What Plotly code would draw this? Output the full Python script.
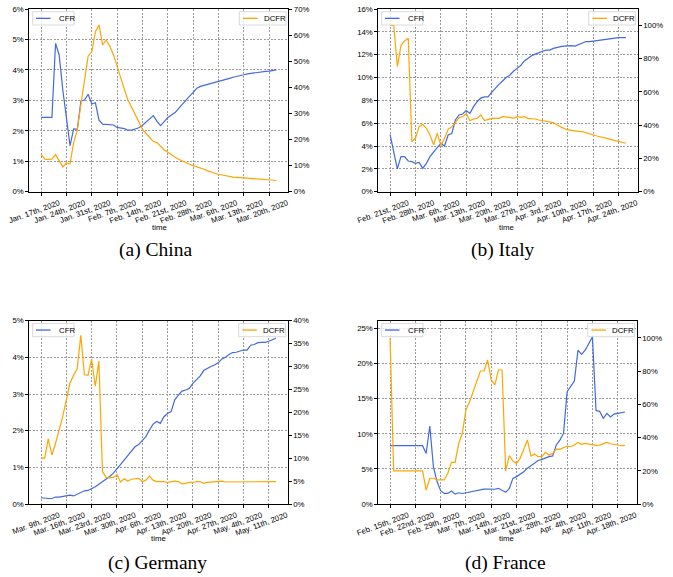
import pandas as pd
import plotly.graph_objects as go

# ---------------------------------------------------------------- data
# Daily CFR / DCFR (percent) for each country, one value per day.
china_start = "2020-01-17"
china_cfr = [2.44, 2.44, 2.44, 2.44, 4.87, 4.49, 3.34, 2.41, 1.51, 2.06,
             2.05, 2.98, 3.01, 3.2, 2.88, 2.92, 2.35, 2.22, 2.21, 2.21,
             2.19, 2.11, 2.09, 2.07, 2.02, 2.02, 2.06, 2.1, 2.18, 2.28,
             2.39, 2.5, 2.31, 2.17, 2.3, 2.44, 2.52, 2.6, 2.74, 2.88,
             3.02, 3.14, 3.26, 3.4, 3.46, 3.49, 3.52, 3.56, 3.59, 3.61,
             3.66, 3.69, 3.72, 3.76, 3.78, 3.81, 3.84, 3.87, 3.89, 3.91,
             3.93, 3.94, 3.95, 3.96, 3.99, 4.0]
china_dcfr = [14.4, 12.5, 12.4, 12.5, 14.2, 11.7, 9.5, 11.0, 10.7, 18.9,
              23.6, 33.5, 42.1, 52.0, 53.6, 61.3, 63.9, 56.2, 58.1, 55.6,
              52.4, 47.9, 42.8, 39.2, 35.1, 32.3, 29.4, 26.4, 23.9, 22.3,
              20.8, 19.2, 18.8, 17.2, 16.0, 15.1, 14.0, 13.2, 12.4, 11.7,
              11.1, 10.5, 10.0, 9.6, 9.1, 8.6, 8.0, 7.5, 7.0, 6.6,
              6.4, 6.1, 5.9, 5.6, 5.5, 5.4, 5.2, 5.1, 5.0, 4.9,
              4.7, 4.6, 4.6, 4.5, 4.5, 4.3]

italy_start = "2020-02-21"
italy_cfr = [5.0, 3.5, 2.0, 3.07, 3.07, 2.69, 2.63, 2.48, 2.57, 2.04,
             2.48, 3.07, 3.5, 3.85, 4.23, 4.0, 4.96, 5.1, 6.28, 6.72,
             6.8, 7.1, 6.86, 7.45, 7.88, 8.2, 8.3, 8.3, 8.7, 9.1,
             9.4, 9.7, 10.0, 10.2, 10.55, 10.8, 11.05, 11.45, 11.7, 11.9,
             12.05, 12.2, 12.3, 12.4, 12.4, 12.55, 12.65, 12.7, 12.75, 12.8,
             12.8, 12.75, 12.9, 13.05, 13.15, 13.15, 13.2, 13.25, 13.3, 13.35,
             13.4, 13.45, 13.45, 13.5, 13.5, 13.5]
italy_dcfr = [100.0, 100.0, 75.2, 87.8, 90.6, 92.2, 30.1, 32.1, 39.1, 40.5,
              38.1, 34.1, 28.1, 35.1, 27.7, 32.0, 37.5, 39.0, 41.5, 44.5,
              45.0, 47.0, 42.7, 43.7, 44.1, 46.1, 42.7, 43.5, 44.1, 44.1,
              44.1, 45.1, 45.1, 44.7, 44.1, 45.1, 44.7, 45.1, 44.1, 44.1,
              43.7, 43.1, 42.7, 42.5, 42.3, 41.5, 40.1, 38.9, 37.9, 37.1,
              36.7, 36.5, 36.3, 36.1, 35.3, 34.7, 34.1, 33.5, 33.1, 32.5,
              31.9, 31.3, 30.7, 30.1, 29.5, 29.1]

germany_start = "2020-03-09"
germany_cfr = [0.17, 0.15, 0.15, 0.15, 0.19, 0.19, 0.2, 0.23, 0.24, 0.22,
               0.27, 0.32, 0.36, 0.37, 0.41, 0.47, 0.54, 0.61, 0.67, 0.75,
               0.84, 0.97, 1.09, 1.2, 1.32, 1.45, 1.56, 1.62, 1.72, 1.84,
               2.02, 2.18, 2.25, 2.2, 2.38, 2.47, 2.52, 2.84, 2.97, 3.08,
               3.11, 3.15, 3.29, 3.38, 3.49, 3.64, 3.7, 3.75, 3.79, 3.85,
               3.95, 4.0, 4.08, 4.13, 4.14, 4.17, 4.2, 4.2, 4.33, 4.35,
               4.4, 4.41, 4.41, 4.44, 4.47, 4.52]
germany_dcfr = [10.0, 10.0, 14.2, 10.7, 13.2, 16.1, 19.1, 22.7, 26.4, 28.1,
                29.5, 36.8, 28.2, 28.1, 31.6, 25.7, 31.2, 7.1, 5.8, 5.7,
                5.8, 6.4, 4.8, 5.5, 5.0, 5.4, 5.5, 5.6, 4.9, 5.2,
                6.1, 5.2, 4.9, 4.9, 4.9, 4.7, 4.8, 5.0, 4.9, 4.4,
                4.5, 4.7, 4.7, 4.9, 4.9, 4.5, 4.7, 4.8, 4.9, 4.9,
                5.0, 4.8, 4.8, 4.8, 4.9, 4.9, 4.9, 4.9, 4.9, 4.9,
                4.9, 4.9, 4.8, 4.8, 4.9, 4.9]

france_start = "2020-02-15"
france_cfr = [8.3, 8.3, 8.3, 8.3, 8.3, 8.3, 8.3, 8.3, 8.3, 8.3,
              7.2, 11.1, 5.3, 3.2, 1.9, 1.5, 1.5, 1.85, 1.4, 1.6,
              1.5, 1.6, 1.65, 1.75, 1.85, 2.04, 2.13, 2.13, 2.1, 2.1,
              2.23, 2.0, 1.66, 2.23, 3.65, 3.9, 4.2, 4.6, 5.1, 5.45,
              5.8, 6.2, 6.35, 6.6, 6.75, 6.85, 8.4, 9.1, 10.05, 16.0,
              16.7, 17.5, 21.9, 21.3, 21.9, 22.9, 23.8, 13.3, 13.2, 12.2,
              12.9, 12.4, 12.8, 12.9, 13.0, 13.1]
france_dcfr = [100.0, 20.0, 20.0, 20.0, 20.0, 20.0, 20.0, 20.0, 20.0, 20.0,
               8.4, 15.5, 15.5, 14.5, 14.5, 14.5, 18.5, 25.1, 25.1, 36.5,
               42.6, 56.8, 61.4, 67.3, 73.7, 80.1, 80.1, 86.7, 74.7, 71.7,
               80.7, 80.7, 19.9, 29.1, 25.9, 24.5, 27.5, 32.5, 38.6, 28.9,
               30.1, 28.5, 28.5, 31.1, 29.5, 30.5, 33.1, 32.9, 34.1, 34.9,
               34.5, 35.5, 37.1, 35.9, 36.5, 36.1, 35.9, 35.3, 35.5, 36.1,
               37.1, 36.3, 35.9, 35.5, 35.1, 35.3]

captions = ["(a) China", "(b) Italy", "(c) Germany", "(d) France"]

# ---------------------------------------------------------------- styling
W, H = 673, 577
CFR_COLOR = "#4169E1"
DCFR_COLOR = "#FFA500"
SANS = "Liberation Sans, Arial, sans-serif"
SERIF = "Liberation Serif, Times New Roman, serif"
TICK_FONT = dict(family=SANS, size=7.8, color="#000000")
GRID = "#9a9a9a"

# plot-area boxes in pixels: left, top, right, bottom
panels = [
    dict(start=china_start, cfr=china_cfr, dcfr=china_dcfr,
         box=(29.3, 9.0, 288.3, 191.7), left=(0, 6, 1), right=(0, 70, 10),
         cap=(155, 250), tlab=(159, 227)),
    dict(start=italy_start, cfr=italy_cfr, dcfr=italy_dcfr,
         box=(378.3, 9.0, 637.7, 191.7), left=(0, 16, 2), right=(0, 109.8, 20),
         cap=(503, 250), tlab=(506, 227)),
    dict(start=germany_start, cfr=germany_cfr, dcfr=germany_dcfr,
         box=(29.3, 320.7, 287.7, 504.0), left=(0, 5, 1), right=(0, 40, 5),
         cap=(157, 563), tlab=(158, 538)),
    dict(start=france_start, cfr=france_cfr, dcfr=france_dcfr,
         box=(378.3, 320.7, 636.7, 504.0), left=(0, 26.1, 5), right=(0, 110.4, 20),
         cap=(505, 563), tlab=(506, 538)),
]


def px_x(x):
    return x / W


def px_y(y):
    return 1 - y / H


def ordinal(n):
    if 10 <= n % 100 <= 20:
        return f"{n}th"
    return f"{n}" + {1: "st", 2: "nd", 3: "rd"}.get(n % 10, "th")


def date_label(d):
    return f"{d.strftime('%b')}. {ordinal(d.day)}, {d.year}"


def pct_ticks(lo, hi, step):
    vals = []
    v = lo
    while v <= hi + 1e-9:
        vals.append(v)
        v += step
    return vals


fig = go.Figure()
layout = dict(
    width=W, height=H, margin=dict(l=0, r=0, t=0, b=0, autoexpand=False),
    paper_bgcolor="white", plot_bgcolor="white", showlegend=False,
    shapes=[], annotations=[],
)

for k, p in enumerate(panels):
    n = k + 1
    xname = "x" if n == 1 else f"x{n}"
    yl_idx, yr_idx = 2 * n - 1, 2 * n
    yl = "y" if yl_idx == 1 else f"y{yl_idx}"
    yr = f"y{yr_idx}"

    dates = pd.date_range(p["start"], periods=len(p["cfr"]), freq="D")
    span = dates[-1] - dates[0]
    pad = span * 0.05
    ticks = pd.date_range(dates[0], dates[-1], freq="7D")

    fig.add_trace(go.Scatter(x=dates, y=p["cfr"], mode="lines", name="CFR",
                             line=dict(color=CFR_COLOR, width=1.2),
                             xaxis=xname, yaxis=yl))
    fig.add_trace(go.Scatter(x=dates, y=p["dcfr"], mode="lines", name="DCFR",
                             line=dict(color=DCFR_COLOR, width=1.2),
                             xaxis=xname, yaxis=yr))

    L, T, R, B = p["box"]
    xdom = [px_x(L), px_x(R)]
    ydom = [px_y(B), px_y(T)]

    layout["xaxis" if n == 1 else f"xaxis{n}"] = dict(
        domain=xdom, anchor=yl, type="date", automargin=False,
        range=[str(dates[0] - pad), str(dates[-1] + pad)],
        tickmode="array", tickvals=list(ticks),
        ticktext=[date_label(t) for t in ticks],
        tickangle=-20, tickfont=TICK_FONT, ticklabelshift=18,
        ticks="outside", ticklen=3, tickwidth=0.8, tickcolor="black",
        showline=True, linecolor="black", linewidth=1, mirror=True,
        showgrid=True, gridcolor=GRID, gridwidth=0.6, griddash="2px,1.5px",
        zeroline=False,
    )
    lo, hi, st = p["left"]
    lv = pct_ticks(lo, hi, st)
    layout["yaxis" if yl_idx == 1 else f"yaxis{yl_idx}"] = dict(
        domain=ydom, anchor=xname, side="left", range=[lo, hi], automargin=False,
        tickmode="array", tickvals=lv, ticktext=[f"{v:g}%" for v in lv],
        tickfont=TICK_FONT,
        ticks="outside", ticklen=3, tickwidth=0.8, tickcolor="black",
        showline=True, linecolor="black", linewidth=1,
        showgrid=True, gridcolor=GRID, gridwidth=0.6, griddash="2px,1.5px",
        zeroline=False,
    )
    lo, hi, st = p["right"]
    rv = pct_ticks(lo, hi, st)
    layout[f"yaxis{yr_idx}"] = dict(
        overlaying=yl, anchor=xname, side="right", range=[lo, hi], automargin=False,
        tickmode="array", tickvals=rv, ticktext=[f"{v:g}%" for v in rv],
        tickfont=TICK_FONT,
        ticks="outside", ticklen=3, tickwidth=0.8, tickcolor="black",
        showline=True, linecolor="black", linewidth=1,
        showgrid=False, zeroline=False,
    )

    # legend boxes: CFR upper left, DCFR upper right
    for label, color, bx0, bw, line_off, text_off in (
        ("CFR", CFR_COLOR, L + 3.4, 41.3, 3.3, 24.0),
        ("DCFR", DCFR_COLOR, R - 2.3 - 46.7, 46.7, 3.7, 22.7),
    ):
        by0, bh = T + 2.7, 13.3
        layout["shapes"].append(dict(
            type="rect", xref="paper", yref="paper",
            x0=px_x(bx0), x1=px_x(bx0 + bw), y0=px_y(by0 + bh), y1=px_y(by0),
            line=dict(color="#d0d0d0", width=0.8), fillcolor="rgba(255,255,255,0.8)",
            layer="above",
        ))
        cy = by0 + bh / 2
        layout["shapes"].append(dict(
            type="line", xref="paper", yref="paper",
            x0=px_x(bx0 + line_off), x1=px_x(bx0 + line_off + 14.5),
            y0=px_y(cy), y1=px_y(cy),
            line=dict(color=color, width=1.3), layer="above",
        ))
        layout["annotations"].append(dict(
            text=label, xref="paper", yref="paper",
            x=px_x(bx0 + text_off), y=px_y(cy), xanchor="left", yanchor="middle",
            showarrow=False, font=dict(family=SANS, size=7.8, color="#000000"),
        ))

    # axis title and panel caption
    layout["annotations"].append(dict(
        text="time", xref="paper", yref="paper",
        x=px_x(p["tlab"][0]), y=px_y(p["tlab"][1]),
        xanchor="center", yanchor="middle", showarrow=False,
        font=dict(family=SANS, size=7.8, color="#000000"),
    ))
    layout["annotations"].append(dict(
        text=captions[k], xref="paper", yref="paper",
        x=px_x(p["cap"][0]), y=px_y(p["cap"][1]),
        xanchor="center", yanchor="middle", showarrow=False,
        font=dict(family=SERIF, size=19.5, color="#000000"),
    ))

fig.update_layout(**layout)
fig.write_html("out.html")
